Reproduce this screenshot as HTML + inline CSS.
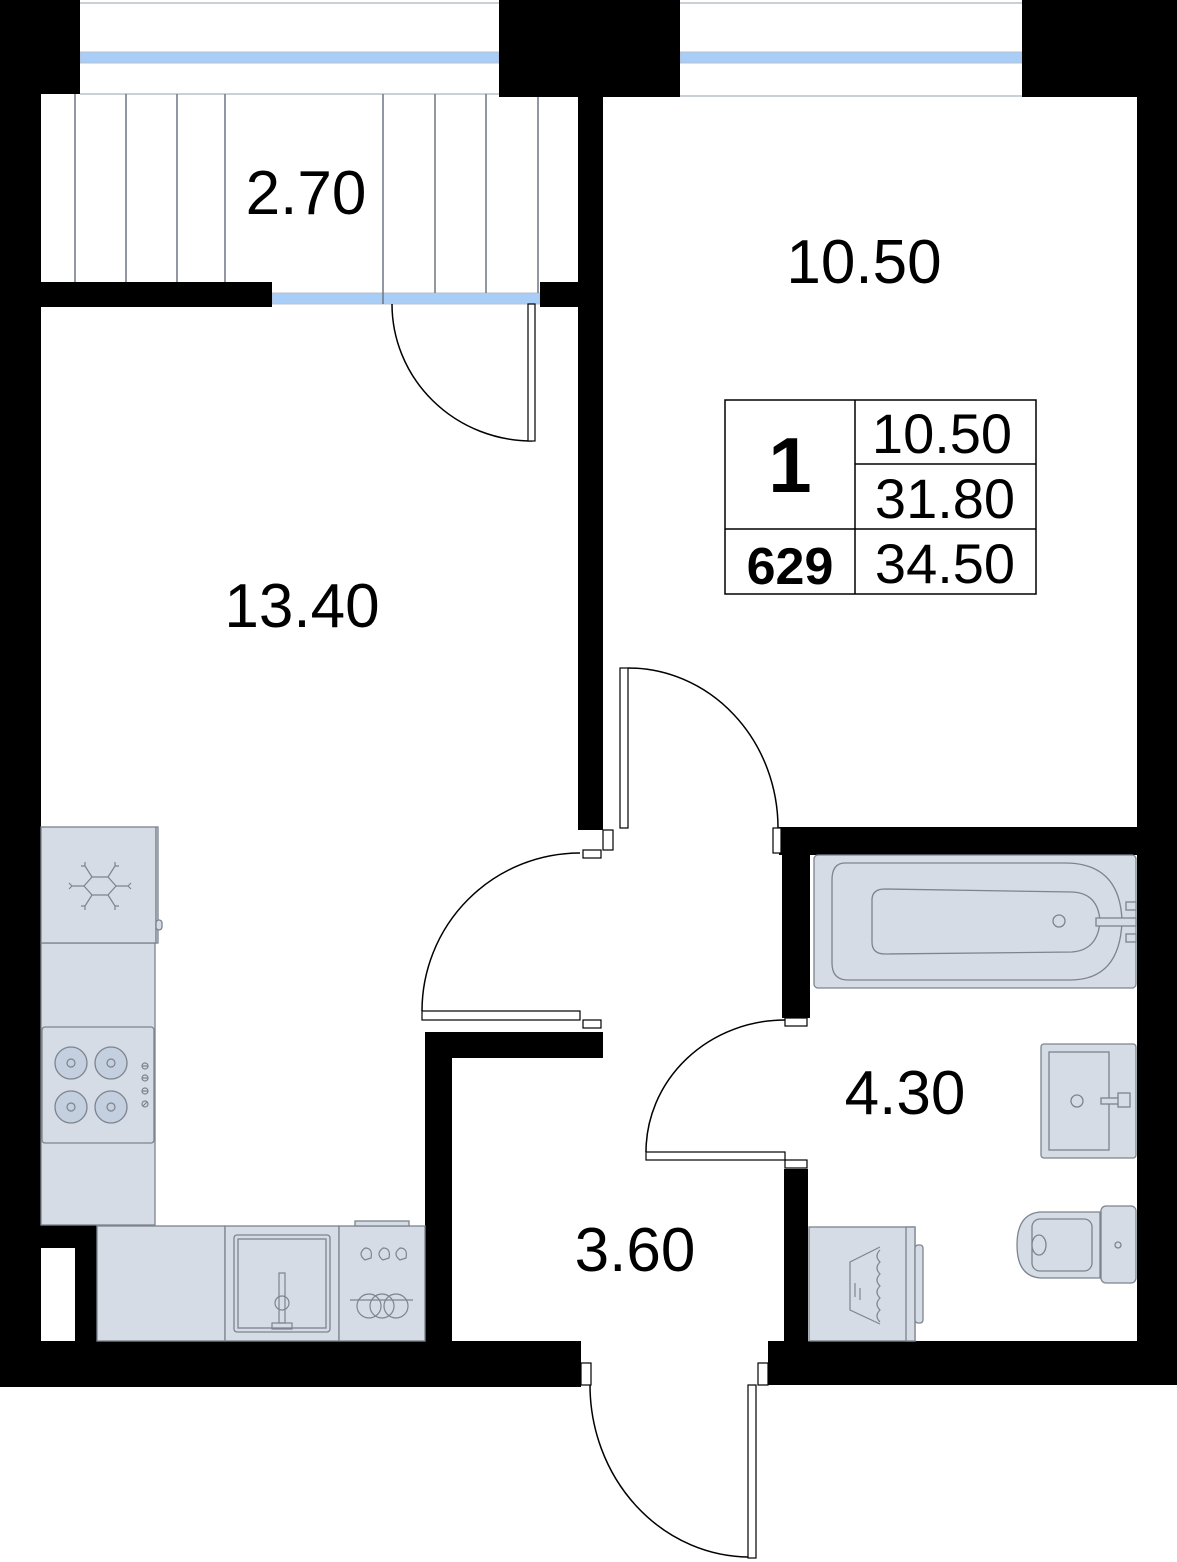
<!DOCTYPE html>
<html><head><meta charset="utf-8"><style>
html,body{margin:0;padding:0;background:#fff}
svg{display:block}
text{font-family:"Liberation Sans",sans-serif;fill:#000}
</style></head><body>
<svg width="1177" height="1562" viewBox="0 0 1177 1562" xmlns="http://www.w3.org/2000/svg">
<g stroke="#b8c0cc" stroke-width="1.5" fill="none">
<line x1="80" y1="3" x2="499" y2="3"/><line x1="80" y1="94" x2="499" y2="94"/>
<line x1="680" y1="3" x2="1022" y2="3"/><line x1="680" y1="96" x2="1022" y2="96"/>
</g>
<rect x="80" y="52" width="419" height="11" fill="#a8cdf7" stroke="#b8c0cc"/>
<rect x="680" y="52" width="342" height="11" fill="#a8cdf7" stroke="#b8c0cc"/>
<rect x="272" y="293" width="268" height="11" fill="#a8cdf7" stroke="#b8c0cc"/>
<g stroke="#6e7782" stroke-width="1.5">
<line x1="75" y1="94" x2="75" y2="282"/><line x1="126" y1="94" x2="126" y2="282"/>
<line x1="177" y1="94" x2="177" y2="282"/><line x1="225" y1="94" x2="225" y2="282"/>
<line x1="383" y1="94" x2="383" y2="304"/><line x1="435" y1="94" x2="435" y2="293"/>
<line x1="486" y1="94" x2="486" y2="293"/><line x1="538" y1="97" x2="538" y2="293"/>
</g>
<g fill="#000">
<rect x="0" y="0" width="80" height="94"/>
<rect x="0" y="0" width="41" height="1387"/>
<rect x="499" y="0" width="181" height="97"/>
<rect x="1022" y="0" width="155" height="97"/>
<rect x="1137" y="0" width="40" height="1385"/>
<rect x="578" y="97" width="25" height="733"/>
<rect x="41" y="282" width="231" height="25"/>
<rect x="540" y="282" width="38" height="25"/>
<rect x="41" y="1225" width="56" height="23"/>
<rect x="75" y="1225" width="22" height="120"/>
<rect x="0" y="1341" width="581" height="46"/>
<rect x="425" y="1032" width="27" height="312"/>
<rect x="425" y="1032" width="178" height="26"/>
<rect x="779" y="827" width="398" height="28"/>
<rect x="782" y="827" width="28" height="191"/>
<rect x="784" y="1169" width="24" height="175"/>
<rect x="768" y="1341" width="409" height="44"/>
</g>
<g fill="#fff" stroke="#000" stroke-width="1.2">
<rect x="603" y="830" width="10" height="20"/><rect x="583" y="850" width="18" height="8"/>
<rect x="583" y="1020" width="18" height="8"/>
<rect x="773" y="828" width="8" height="25"/>
<rect x="785" y="1018" width="22" height="8"/><rect x="785" y="1160" width="22" height="8"/>
<rect x="581" y="1363" width="10" height="22"/><rect x="758" y="1363" width="10" height="22"/>
</g>
<g fill="none" stroke="#000" stroke-width="1.5">
<path d="M392 304 A140 137 0 0 0 532 441"/>
<path d="M628 668 A150 160 0 0 1 778 828"/>
<path d="M580 853 A158 158 0 0 0 422 1011"/>
<path d="M785 1020 A139 132 0 0 0 646 1152"/>
<path d="M590 1385 A160 172 0 0 0 750 1557"/>
</g>
<g fill="#fff" stroke="#000" stroke-width="1.2">
<rect x="528" y="304" width="7" height="137"/>
<rect x="620" y="668" width="8" height="160"/>
<rect x="422" y="1011" width="158" height="9"/>
<rect x="646" y="1152" width="139" height="8"/>
<rect x="748" y="1385" width="8" height="173"/>
</g>
<g fill="#d6dce5" stroke="#7c848e" stroke-width="1.3">
<rect x="41" y="943" width="114" height="282"/>
<rect x="41" y="827" width="115" height="116"/>
<rect x="156" y="827" width="2" height="116"/>
<rect x="156" y="920" width="6" height="10" rx="3"/>
<rect x="42" y="1027" width="112" height="116" rx="3"/>
<rect x="97" y="1226" width="128" height="115"/>
<rect x="225" y="1226" width="114" height="115"/>
<rect x="234" y="1235" width="96" height="97" rx="3"/>
<rect x="238" y="1239" width="88" height="89"/>
<rect x="339" y="1226" width="86" height="115"/>
<rect x="355" y="1221" width="54" height="5"/>
<rect x="809" y="1227" width="106" height="114"/>
<rect x="906" y="1227" width="9" height="114"/>
<rect x="915" y="1245" width="8" height="78" rx="3"/>
<rect x="814" y="855" width="322" height="133" rx="4"/>
<path d="M1065 863 H845 Q832 863 832 880 V963 Q832 980 848 980 H1070 Q1120 980 1122 921 Q1120 863 1065 863 Z"/>
<path d="M885 889 L1072 892 Q1098 893 1100 921 Q1098 950 1072 952 L885 954 Q872 954 872 942 V900 Q872 889 885 889 Z"/>
<rect x="1096" y="918" width="40" height="8"/>
<rect x="1126" y="902" width="10" height="8"/><rect x="1126" y="934" width="10" height="8"/>
<circle cx="1059" cy="921" r="6"/>
<rect x="1041" y="1044" width="95" height="114" rx="3"/>
<rect x="1049" y="1052" width="60" height="98"/>
<circle cx="1077" cy="1101" r="6"/>
<rect x="1101" y="1098" width="22" height="6"/><rect x="1118" y="1093" width="12" height="14"/>
<rect x="1101" y="1206" width="35" height="77" rx="5"/>
<path d="M1100 1212 H1040 Q1017 1214 1017 1245 Q1017 1276 1040 1278 H1100 Z"/>
<rect x="1032" y="1219" width="60" height="52" rx="8"/>
<ellipse cx="1039" cy="1245" rx="7" ry="10"/>
<circle cx="1118" cy="1245" r="3"/>
</g>
<g fill="#c4cfe0" stroke="#7c848e" stroke-width="1.3">
<circle cx="71" cy="1063" r="16"/><circle cx="111" cy="1063" r="16"/>
<circle cx="71" cy="1107" r="16"/><circle cx="111" cy="1107" r="16"/>
</g>
<g fill="none" stroke="#7c848e" stroke-width="1.2">
<circle cx="71" cy="1063" r="4"/><circle cx="111" cy="1063" r="4"/>
<circle cx="71" cy="1107" r="4"/><circle cx="111" cy="1107" r="4"/>
<circle cx="145" cy="1066" r="3"/><circle cx="145" cy="1078" r="3"/><circle cx="145" cy="1091" r="3"/><circle cx="145" cy="1104" r="3"/>
<path d="M142 1066h6M142 1078h6M142 1091h6M143 1106l4-4"/>
<path d="M72 886 H84 M116 886 H128 M85 866 L92 877 M115 866 L108 877 M85 906 L92 895 M115 906 L108 895"/>
<path d="M72 886 l-3 -3 M72 886 l-3 3 M128 886 l3 -3 M128 886 l3 3 M85 866 l-4 0 M85 866 l0 -4 M115 866 l4 0 M115 866 l0 -4 M85 906 l-4 0 M85 906 l0 4 M115 906 l4 0 M115 906 l0 4"/>
<polygon points="92,877 108,877 116,886 108,895 92,895 84,886"/>
<rect x="279" y="1273" width="6" height="50"/><rect x="272" y="1323" width="20" height="6"/>
<circle cx="282" cy="1303" r="7"/>
<path d="M365 1260 q-8 -6 0 -12 q8 0 6 10 z M383 1260 q-8 -6 0 -12 q8 0 6 10 z M400 1260 q-8 -6 0 -12 q8 0 6 10 z"/>
<circle cx="369" cy="1306" r="12"/><circle cx="382" cy="1306" r="12"/><circle cx="396" cy="1306" r="12"/>
<line x1="350" y1="1300" x2="413" y2="1300"/>
<path d="M880 1247 L850 1262 V1310 L880 1324"/>
<path d="M880 1250 q-6 6 0 12 q-6 6 0 12 q-6 6 0 12 q-6 6 0 12 q-6 6 0 12 q-6 6 0 12"/>
<line x1="855" y1="1283" x2="855" y2="1297"/><line x1="860" y1="1288" x2="860" y2="1300"/>
</g>
<g font-size="62">
<text x="306" y="214" text-anchor="middle">2.70</text>
<text x="864" y="283" text-anchor="middle">10.50</text>
<text x="302" y="627" text-anchor="middle">13.40</text>
<text x="905" y="1114" text-anchor="middle">4.30</text>
<text x="635" y="1271" text-anchor="middle">3.60</text>
</g>
<g fill="none" stroke="#000" stroke-width="1.5">
<rect x="725" y="400" width="311" height="194"/>
<line x1="855" y1="400" x2="855" y2="594"/>
<line x1="855" y1="464" x2="1036" y2="464"/>
<line x1="725" y1="529" x2="1036" y2="529"/>
</g>
<text x="790" y="492" text-anchor="middle" font-size="78" font-weight="bold">1</text>
<text x="790" y="584" text-anchor="middle" font-size="52" font-weight="bold">629</text>
<g font-size="56" text-anchor="middle">
<text x="942" y="453">10.50</text>
<text x="945" y="518">31.80</text>
<text x="945" y="583">34.50</text>
</g>
</svg>
</body></html>
